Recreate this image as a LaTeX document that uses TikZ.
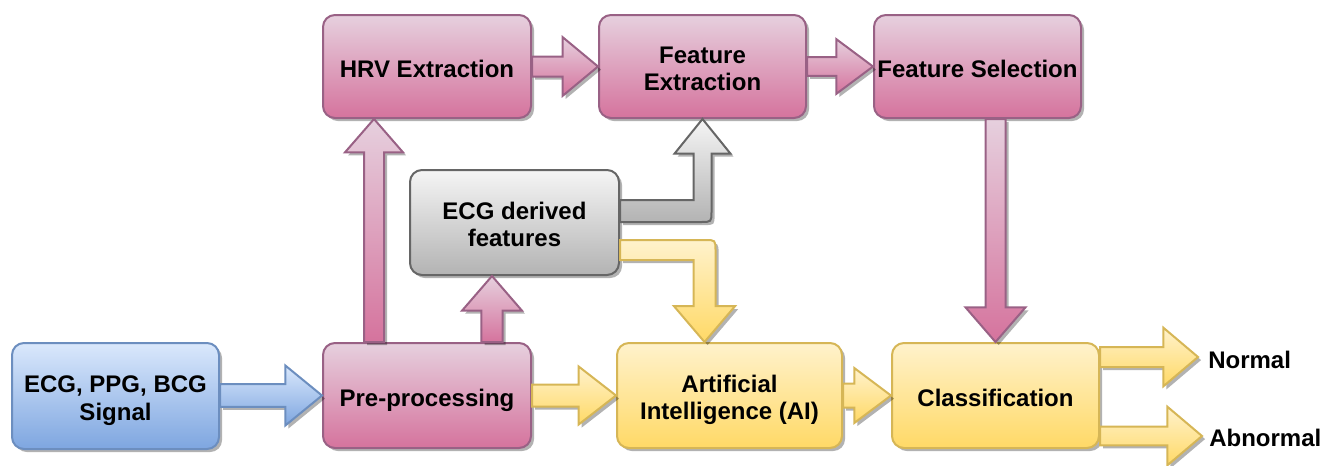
\documentclass[tikz,border=0pt]{standalone}
\usepackage{fontspec}
\setmainfont{Liberation Sans}
\usetikzlibrary{calc,shadows}
\definecolor{pinkT}{HTML}{E6D0DE}\definecolor{pinkB}{HTML}{D5739D}\definecolor{pinkS}{HTML}{996185}
\definecolor{blueT}{HTML}{DAE8FC}\definecolor{blueB}{HTML}{7EA6E0}\definecolor{blueS}{HTML}{6C8EBF}
\definecolor{grayT}{HTML}{F5F5F5}\definecolor{grayB}{HTML}{B3B3B3}\definecolor{grayS}{HTML}{666666}
\definecolor{yelT}{HTML}{FFF2CC}\definecolor{yelB}{HTML}{FFD966}\definecolor{yelS}{HTML}{D6B656}
\tikzset{
 shad/.style={drop shadow={shadow xshift=2.3pt,shadow yshift=-2.3pt,opacity=0.3,fill=black}},
 box/.style={draw, line width=1.5pt, rounded corners=9pt, shad, align=center, inner sep=1pt,
   font=\fontsize{18}{20.5}\selectfont\bfseries},
 oneline/.style={text height=16pt, text depth=0pt},
 twoline/.style={text height=36pt, text depth=0pt},
 pinkbox/.style={box, draw=pinkS, top color=pinkT, bottom color=pinkB},
 bluebox/.style={box, draw=blueS, top color=blueT, bottom color=blueB},
 graybox/.style={box, draw=grayS, top color=grayT, bottom color=grayB},
 yelbox/.style={box, draw=yelS, top color=yelT, bottom color=yelB},
 blk/.style={line width=1.5pt, line join=miter, shad},
 pinkarr/.style={blk, draw=pinkS, top color=pinkT, bottom color=pinkB},
 bluearr/.style={blk, draw=blueS, top color=blueT, bottom color=blueB},
 grayarr/.style={blk, draw=grayS, top color=grayT, bottom color=grayB},
 yelarr/.style={blk, draw=yelS, top color=yelT, bottom color=yelB},
 lab/.style={anchor=west, inner sep=0pt, font=\fontsize{18}{20.5}\selectfont\bfseries},
}
% horizontal block arrow: style, start, end(tip), body half, head half, head length
\newcommand\harr[6]{\path[#1] let \p1=(#2), \p2=(#3) in
 ({\x1},{\y2+#4}) -- ({\x2-#6},{\y2+#4}) -- ({\x2-#6},{\y2+#5}) -- ({\x2},{\y2})
 -- ({\x2-#6},{\y2-#5}) -- ({\x2-#6},{\y2-#4}) -- ({\x1},{\y2-#4}) -- cycle;}
% vertical block arrow: style, start, end(tip), body half, head half, signed head length
\newcommand\varr[6]{\path[#1] let \p1=(#2), \p2=(#3) in
 ({\x1-#4},{\y1}) -- ({\x1-#4},{\y2-#6}) -- ({\x1-#5},{\y2-#6}) -- ({\x1},{\y2})
 -- ({\x1+#5},{\y2-#6}) -- ({\x1+#4},{\y2-#6}) -- ({\x1+#4},{\y1}) -- cycle;}
% elbow right-then-up: style, start, tip, horiz half, vert half, head half, head length
\newcommand\elbup[7]{\path[#1] let \p1=(#2), \p2=(#3) in
 ({\x1},{\y1+#4}) -- ({\x2-#5},{\y1+#4}) -- ({\x2-#5},{\y2-#7}) -- ({\x2-#6},{\y2-#7})
 -- ({\x2},{\y2}) -- ({\x2+#6},{\y2-#7}) -- ({\x2+#5},{\y2-#7}) -- ({\x2+#5},{\y1-#4+8pt})
 .. controls ({\x2+#5},{\y1-#4}) .. ({\x2+#5-8pt},{\y1-#4}) -- ({\x1},{\y1-#4}) -- cycle;}
% elbow right-then-down
\newcommand\elbdown[7]{\path[#1] let \p1=(#2), \p2=(#3) in
 ({\x1},{\y1+#4}) -- ({\x2+#5-8pt},{\y1+#4}) .. controls ({\x2+#5},{\y1+#4}) .. ({\x2+#5},{\y1+#4-8pt})
 -- ({\x2+#5},{\y2+#7}) -- ({\x2+#6},{\y2+#7}) -- ({\x2},{\y2}) -- ({\x2-#6},{\y2+#7})
 -- ({\x2-#5},{\y2+#7}) -- ({\x2-#5},{\y1-#4}) -- ({\x1},{\y1-#4}) -- cycle;}
\begin{document}
\begin{tikzpicture}[x=0.75pt,y=-0.75pt]
\useasboundingbox (0,0) rectangle (1332,465);
% nodes
\node[bluebox, twoline, minimum width=155.25pt, minimum height=79.5pt] (sig) at (115.5,396) {ECG, PPG, BCG\\Signal};
\node[pinkbox, oneline, minimum width=156pt, minimum height=78.75pt] (pre) at (427,395.5) {Pre-processing};
\node[pinkbox, oneline, minimum width=156pt, minimum height=77.25pt] (hrv) at (427,66.5) {HRV Extraction};
\node[pinkbox, twoline, minimum width=155.25pt, minimum height=77.25pt] (fe) at (702.5,66.5) {Feature\\Extraction};
\node[pinkbox, oneline, minimum width=155.25pt, minimum height=77.25pt] (fs) at (977.5,66.5) {Feature Selection};
\node[graybox, twoline, minimum width=156.75pt, minimum height=78.75pt] (ecg) at (514.5,222.5) {ECG derived\\features};
\node[yelbox, twoline, minimum width=168.75pt, minimum height=78.75pt] (ai) at (729.5,395.5) {Artificial\\Intelligence (AI)};
\node[yelbox, oneline, minimum width=155.25pt, minimum height=78.75pt] (cls) at (995.5,395.5) {Classification};
\node[lab] (nlab) at (1208,360) {Normal};
\node[lab] (alab) at (1209,438) {Abnormal};
% helper coordinates
\coordinate (nrm) at (1198,357);
\coordinate (abn) at (1202,436);
\coordinate (phs) at ($(pre.north west)+(52,0)$);
\coordinate (pes) at ($(pre.north west)+(170,0)$);
\coordinate (efs) at ($(ecg.east)+(0,-11.5)$);
\coordinate (eas) at ($(ecg.east)+(0,27.5)$);
\coordinate (eae) at ($(ai.north)+(-25,0)$);
% arrows
\harr{bluearr}{sig.east}{pre.west}{8.5pt}{22.5pt}{27.5pt}
\harr{yelarr}{pre.east}{ai.west}{8.25pt}{21.75pt}{28pt}
\harr{yelarr}{ai.east}{cls.west}{9pt}{20.6pt}{27.5pt}
\harr{pinkarr}{hrv.east}{fe.west}{7.5pt}{22pt}{26.5pt}
\harr{pinkarr}{fe.east}{fs.west}{7pt}{20.5pt}{27.5pt}
\harr{yelarr}{cls.east |- nrm}{nrm}{7.5pt}{22pt}{26pt}
\harr{yelarr}{cls.east |- abn}{abn}{7pt}{22pt}{26pt}
\varr{pinkarr}{phs}{hrv.south}{7.5pt}{21.75pt}{25pt}
\varr{pinkarr}{pes}{ecg.south}{7.9pt}{22.5pt}{26pt}
\varr{pinkarr}{fs.south -| cls.north}{cls.north}{7.5pt}{22.5pt}{(-26pt)}
\elbup{grayarr}{efs}{fe.south}{8.25pt}{6.75pt}{21pt}{26pt}
\elbdown{yelarr}{eas}{eae}{7.5pt}{8.25pt}{23pt}{27pt}
\end{tikzpicture}
\end{document}
